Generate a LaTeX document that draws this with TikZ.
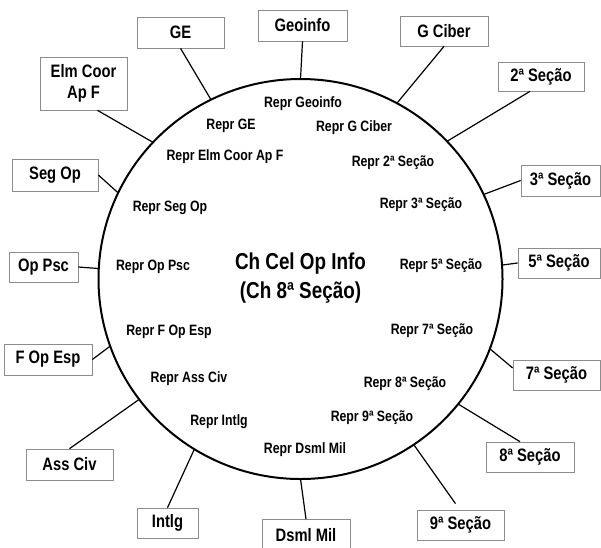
\documentclass[tikz,border=0pt]{standalone}
\usepackage{fontspec}
\setmainfont{Liberation Sans}[FakeStretch=0.82]
\usetikzlibrary{calc}

% point on the ring at an angle measured counter-clockwise from east
\newcommand\onring[2]{\coordinate (#1) at ($(c)+({-#2}:202 and 200)$);}

\begin{document}
\begin{tikzpicture}[x=1pt,y=-1pt,
  unit/.style={draw=black!45, line width=0.7pt, fill=white, inner sep=0pt,
    align=center, font=\bfseries\fontsize{18}{21}\selectfont},
  repr/.style={inner sep=0pt, font=\bfseries\fontsize{15}{17}\selectfont},
  chief/.style={inner sep=0pt, align=center, font=\bfseries\fontsize{23}{29}\selectfont},
  link/.style={line width=1.2pt},
]
\useasboundingbox (0,0) rectangle (601,547);
\fill[white] (0,0) rectangle (601,547);

% the ring
\coordinate (c) at (300.5,279);
\draw[line width=2pt] (c) ellipse [x radius=202, y radius=200];

% where each link meets the ring
\onring{rGE}{116.3}
\onring{rGeo}{90}
\onring{rGC}{61.5}
\onring{rS2}{43.5}
\onring{rS3}{25}
\onring{rS5}{4}
\onring{rS7}{-20.4}
\onring{rS8}{-38.7}
\onring{rS9}{-55.9}
\onring{rDs}{-90}
\onring{rIn}{-121.7}
\onring{rAC}{-143}
\onring{rFO}{-160.4}
\onring{rOP}{177}
\onring{rSO}{154.5}
\onring{rEl}{136.9}

% outer units
\node[unit, minimum width=87, minimum height=31] (ge)  at (180.5,32.5) {GE};
\node[unit, minimum width=89, minimum height=31] (geo) at (302.5,25.5) {Geoinfo};
\node[unit, minimum width=88, minimum height=30] (gc)  at (444,31) {G Ciber};
\node[unit, minimum width=86, minimum height=29] (s2)  at (541,76.5) {2ª Seção};
\node[unit, minimum width=79, minimum height=31] (s3)  at (560.5,180.5) {3ª Seção};
\node[unit, minimum width=82, minimum height=30] (s5)  at (559,263) {5ª Seção};
\node[unit, minimum width=87, minimum height=30] (s7)  at (556.5,375) {7ª Seção};
\node[unit, minimum width=88, minimum height=30] (s8)  at (530,457) {8ª Seção};
\node[unit, minimum width=87, minimum height=30] (s9)  at (460.5,525) {9ª Seção};
\node[unit, minimum width=88, minimum height=31, anchor=north] (ds) at (306,519) {Dsml Mil};
\node[unit, minimum width=61, minimum height=30] (in)  at (167.5,523) {Intlg};
\node[unit, minimum width=87, minimum height=31] (ac)  at (69.5,464.5) {Ass Civ};
\node[unit, minimum width=88, minimum height=31] (fo)  at (48,359.5) {F Op Esp};
\node[unit, minimum width=69, minimum height=30] (op)  at (43.5,267) {Op Psc};
\node[unit, minimum width=86, minimum height=32] (so)  at (55,175) {Seg Op};
\node[unit, minimum width=87, minimum height=53] (el)  at (83.5,83.5) {Elm Coor\\Ap F};

% links from the units to the ring
\draw[link] (ge.south) -- (rGE);
\draw[link] (geo.south) -- (rGeo);
\draw[link] (gc.south) -- (rGC);
\draw[link] ($(s2.south)+(-11,0)$) -- (rS2);
\draw[link] (s3.west) -- (rS3);
\draw[link] (s5.west) -- (rS5);
\draw[link] ($(s7.west)+(0,-7)$) -- (rS7);
\draw[link] ($(s8.north)+(-10,0)$) -- (rS8);
\draw[link] ($(s9.north)+(-5,-6)$) -- (rS9);
\draw[link] (ds.north) -- (rDs);
\draw[link] (in.north) -- (rIn);
\draw[link] (ac.north) -- (rAC);
\draw[link] (fo.east) -- (rFO);
\draw[link] (op.east) -- (rOP);
\draw[link] (so.east) -- (rSO);
\draw[link] ($(el.south)+(14,0)$) -- (rEl);

% representatives inside the ring
\node[repr] (pGeo) at (303,104) {Repr Geoinfo};
\node[repr] (pGE)  at (231,126) {Repr GE};
\node[repr] (pGC)  at (354,128) {Repr G Ciber};
\node[repr] (pEl)  at (225,157) {Repr Elm Coor Ap F};
\node[repr] (pS2)  at (393,163) {Repr 2ª Seção};
\node[repr] (pS3)  at (421,205) {Repr 3ª Seção};
\node[repr] (pSO)  at (170,208) {Repr Seg Op};
\node[repr] (pOP)  at (153,267) {Repr Op Psc};
\node[repr] (pS5)  at (441,266) {Repr 5ª Seção};
\node[repr] (pFO)  at (169,332) {Repr F Op Esp};
\node[repr] (pS7)  at (432,331) {Repr 7ª Seção};
\node[repr] (pAC)  at (189,379) {Repr Ass Civ};
\node[repr] (pS8)  at (405,384) {Repr 8ª Seção};
\node[repr] (pS9)  at (372,418) {Repr 9ª Seção};
\node[repr] (pIn)  at (219,422) {Repr Intlg};
\node[repr] (pDs)  at (305,450) {Repr Dsml Mil};

% chief of the cell
\node[chief] (chief) at (300.5,278) {Ch Cel Op Info\\(Ch 8ª Seção)};
\end{tikzpicture}
\end{document}
